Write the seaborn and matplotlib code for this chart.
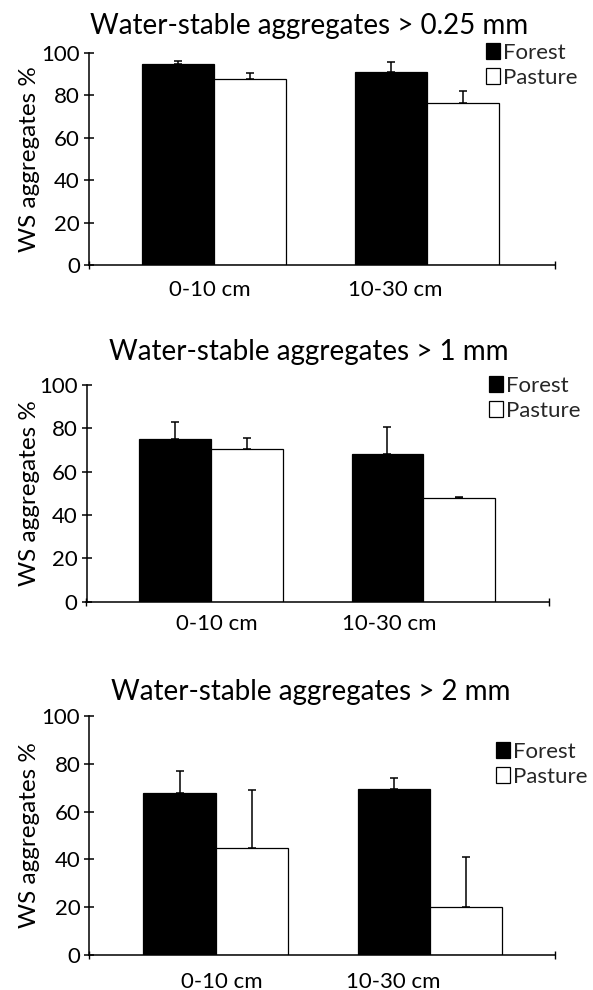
import matplotlib
matplotlib.use("Agg")
import matplotlib.pyplot as plt
from matplotlib.patches import Patch
import numpy as np
import pandas as pd
import seaborn as sns

# ---------------- data ----------------
depths = ["0-10 cm", "10-30 cm"]
land_uses = ["Forest", "Pasture"]
titles = ["Water-stable aggregates > 0.25 mm",
          "Water-stable aggregates > 1 mm",
          "Water-stable aggregates > 2 mm"]
y_label = "WS aggregates %"
y_ticks = [0, 20, 40, 60, 80, 100]

forest_025 = [94.8, 90.9]
pasture_025 = [87.6, 76.4]
forest_025_err = [1.6, 5.0]
pasture_025_err = [2.8, 5.7]

forest_1 = [75.1, 68.0]
pasture_1 = [70.5, 48.0]
forest_1_err = [8.0, 12.5]
pasture_1_err = [5.2, 0.3]

forest_2 = [67.9, 69.6]
pasture_2 = [44.9, 20.2]
forest_2_err = [9.1, 4.4]
pasture_2_err = [24.2, 20.8]

panels = [
    (forest_025, pasture_025, forest_025_err, pasture_025_err),
    (forest_1, pasture_1, forest_1_err, pasture_1_err),
    (forest_2, pasture_2, forest_2_err, pasture_2_err),
]

# ---------------- style ----------------
sns.set_theme(style="white")
plt.rcParams["font.family"] = ["Lato", "DejaVu Sans"]

W, H = 593, 990
fig = plt.figure(figsize=(W / 100, H / 100), dpi=100)

# axes boxes in pixels: left, right, top(100), bottom(0)
boxes = [(89, 555, 53, 265), (86.5, 549, 385, 601.7), (89.3, 555, 716, 955)]
xlims = [(-0.587, 1.601), (-0.586, 1.592), (-0.59, 1.583)]
xtick_pos = [(-0.02, 0.85), (0.03, 0.84), (0.03, 0.83)]
xtick_pad = [11, 9, 12]
title_pos = [(309, 34), (309, 360), (311, 700)]
legend_pos = [(486, 43), (489, 376), (496, 742)]

palette = {"Forest": "black", "Pasture": "white"}

for i, (f, p, fe, pe) in enumerate(panels):
    l, r, t, b = boxes[i]
    ax = fig.add_axes([l / W, 1 - b / H, (r - l) / W, (b - t) / H])
    df = pd.DataFrame({
        "depth": depths * 2,
        "land": [land_uses[0]] * 2 + [land_uses[1]] * 2,
        "value": list(f) + list(p),
    })
    sns.barplot(data=df, x="depth", y="value", hue="land", order=depths,
                hue_order=land_uses, palette=palette, edgecolor="black",
                linewidth=0.9, width=0.676, errorbar=None, legend=False, ax=ax)
    errs = [fe, pe]
    for cont, err in zip(ax.containers, errs):
        for bar, e in zip(cont, err):
            ax.errorbar(bar.get_x() + bar.get_width() / 2, bar.get_height(),
                        yerr=[[0], [e]], fmt="none", ecolor="black",
                        elinewidth=1.1, capsize=3, capthick=1.1, zorder=5)
    ax.set_ylim(0, 100)
    ax.set_xlim(*xlims[i])
    ax.set_yticks(y_ticks)
    ax.tick_params(axis="y", direction="inout", length=7, width=1.1,
                   labelsize=16, pad=3, left=True, color="black")
    ax.set_xticks(list(xtick_pos[i]), depths)
    ax.tick_params(axis="x", length=0, labelsize=16, pad=xtick_pad[i])
    ax.set_xticks(list(xlims[i]), minor=True)
    ax.tick_params(axis="x", which="minor", direction="inout", length=6,
                   width=1.0, bottom=True, color="black")
    for s in ["top", "right"]:
        ax.spines[s].set_visible(False)
    for s in ["left", "bottom"]:
        ax.spines[s].set_color("black")
        ax.spines[s].set_linewidth(1.1)
    ax.set_xlabel("")
    ax.set_ylabel(y_label, fontsize=17.5, color="black")
    ax.yaxis.set_label_coords((40 - l) / (r - l), 0.5)
    for lab in ax.get_xticklabels() + ax.get_yticklabels():
        lab.set_color("black")

    tx, ty = title_pos[i]
    fig.text(tx / W, 1 - ty / H, titles[i], ha="center", va="baseline",
             fontsize=20, color="black")

    handles = [Patch(facecolor=palette[k], edgecolor="black", linewidth=0.9)
               for k in land_uses]
    lx, ly = legend_pos[i]
    ax.legend(handles, land_uses, loc="upper left",
              bbox_to_anchor=(lx / W, 1 - ly / H), bbox_transform=fig.transFigure,
              frameon=False, borderpad=0, borderaxespad=0, handlelength=0.65,
              handleheight=0.7, handletextpad=0.12, labelspacing=0.22,
              fontsize=16)

fig.savefig("out.png", dpi=100)
